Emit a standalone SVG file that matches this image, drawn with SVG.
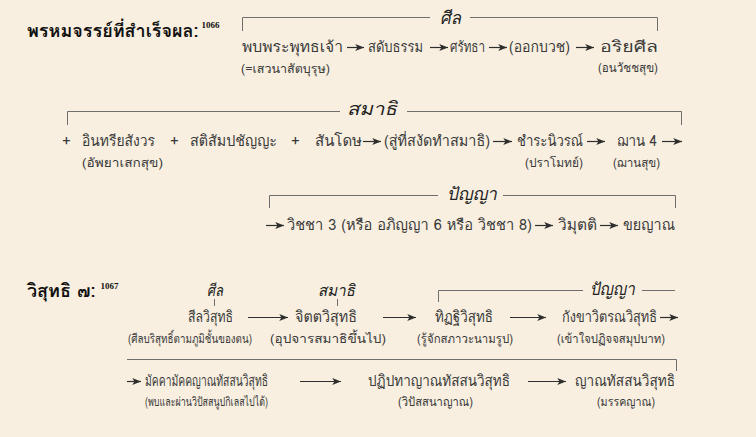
<svg xmlns="http://www.w3.org/2000/svg" width="756" height="437" viewBox="0 0 756 437">
<defs>
<marker id="ah" viewBox="0 0 10 8" refX="10" refY="4" markerWidth="9" markerHeight="7" markerUnits="userSpaceOnUse" orient="auto">
<path d="M0,0 L10,4 L0,8 L2.5,4 Z" fill="#2e2e2e"/>
</marker>
<style>
.t{font-family:"Loma","Noto Sans Thai Looped","Noto Sans Thai","Liberation Sans",sans-serif;font-size:15px;fill:#3a3a3a}
.s{font-family:"Loma","Noto Sans Thai Looped","Noto Sans Thai","Liberation Sans",sans-serif;font-size:12.5px;fill:#3a3a3a}
.h{font-family:"Loma","Noto Sans Thai Looped","Noto Sans Thai","Liberation Sans",sans-serif;font-size:18px;font-weight:bold;fill:#111}
.sup{font-family:"Liberation Serif",serif;font-size:9px;font-weight:bold;fill:#111}
.lab{font-family:"Loma","Noto Sans Thai Looped","Noto Sans Thai","Liberation Sans",sans-serif;font-style:italic;fill:#222}
.br{fill:none;stroke:#6e6e6e;stroke-width:1}
.ar{fill:none;stroke:#2e2e2e;stroke-width:1.2;marker-end:url(#ah)}
</style>
</defs>
<rect width="756" height="437" fill="#f8efe0"/>

<g id="brackets">
<path class="br" d="M242.5,31 V17.5 H430 M470,17.5 H657.5 V31"/>
<path class="br" d="M67.5,125 V111.5 H340 M407,111.5 H681.5 V125"/>
<path class="br" d="M269.5,208 V195.5 H438 M503,195.5 H675.5 V208"/>
<path class="br" d="M438.5,302 V290.5 H583 M642,290.5 H675"/>
<path class="br" d="M127,359.5 H676.5 V371"/>
<path class="br" d="M214.5,299 V306 M337.5,299 V306"/>
</g>

<g id="labels">
<text class="lab" x="440" y="24" font-size="18" textLength="21" lengthAdjust="spacingAndGlyphs">ศีล</text>
<text class="lab" x="347" y="115" font-size="18" textLength="50" lengthAdjust="spacingAndGlyphs">สมาธิ</text>
<text class="lab" x="447" y="200" font-size="18" textLength="50" lengthAdjust="spacingAndGlyphs">ปัญญา</text>
<text class="lab" x="207" y="296" font-size="16" textLength="16" lengthAdjust="spacingAndGlyphs">ศีล</text>
<text class="lab" x="318" y="296" font-size="16" textLength="37" lengthAdjust="spacingAndGlyphs">สมาธิ</text>
<text class="lab" x="590" y="295" font-size="17" textLength="45" lengthAdjust="spacingAndGlyphs">ปัญญา</text>
</g>

<g id="title1">
<text class="h" x="27" y="37">พรหมจรรย์ที่สำเร็จผล:<tspan class="sup" dx="3" dy="-9">1066</tspan></text>
</g>
<g id="title2">
<text class="h" x="27" y="297">วิสุทธิ ๗:<tspan class="sup" dx="5" dy="-8">1067</tspan></text>
</g>

<g id="connectors">
<path class="ar" d="M347,47.5 H364"/>
<path class="ar" d="M430,47.5 H448"/>
<path class="ar" d="M489,47.5 H507"/>
<path class="ar" d="M576,47.5 H594"/>
<path class="ar" d="M363,141.5 H381"/>
<path class="ar" d="M493,141.5 H512"/>
<path class="ar" d="M587,141.5 H605"/>
<path class="ar" d="M662,141.5 H682"/>
<path class="ar" d="M266,225.5 H284"/>
<path class="ar" d="M535,225.5 H553"/>
<path class="ar" d="M600,225.5 H618"/>
<path class="ar" d="M248,317.5 H288"/>
<path class="ar" d="M383,317.5 H416"/>
<path class="ar" d="M510,317.5 H546"/>
<path class="ar" d="M660,317.5 H678"/>
<path class="ar" d="M127,381.5 H141"/>
<path class="ar" d="M300,381.5 H341"/>
<path class="ar" d="M528,381.5 H566"/>
</g>

<g id="n-phob"><text class="t" x="242" y="52" textLength="101" lengthAdjust="spacingAndGlyphs">พบพระพุทธเจ้า</text><text class="s" x="241" y="73" textLength="89" lengthAdjust="spacingAndGlyphs">(=เสวนาสัตบุรุษ)</text></g>
<g id="n-sadap"><text class="t" x="368" y="52" textLength="55" lengthAdjust="spacingAndGlyphs">สดับธรรม</text></g>
<g id="n-sattha"><text class="t" x="450" y="52" textLength="35" lengthAdjust="spacingAndGlyphs">ศรัทธา</text></g>
<g id="n-okbuat"><text class="t" x="509" y="52" textLength="61" lengthAdjust="spacingAndGlyphs">(ออกบวช)</text></g>
<g id="n-ariyasil"><text class="t" x="600" y="52" textLength="58" lengthAdjust="spacingAndGlyphs">อริยศีล</text><text class="s" x="598" y="72" textLength="60" lengthAdjust="spacingAndGlyphs">(อนวัชชสุข)</text></g>

<g id="n-plus"><text class="t" x="62" y="146">+</text><text class="t" x="170" y="146">+</text><text class="t" x="291" y="146">+</text></g>
<g id="n-indriya"><text class="t" x="82" y="146" textLength="73" lengthAdjust="spacingAndGlyphs">อินทรียสังวร</text><text class="s" x="82" y="167" textLength="81" lengthAdjust="spacingAndGlyphs">(อัพยาเสกสุข)</text></g>
<g id="n-sati"><text class="t" x="190" y="146" textLength="87" lengthAdjust="spacingAndGlyphs">สติสัมปชัญญะ</text></g>
<g id="n-santosa"><text class="t" x="315" y="146" textLength="47" lengthAdjust="spacingAndGlyphs">สันโดษ</text></g>
<g id="n-sangat"><text class="t" x="384" y="146" textLength="106" lengthAdjust="spacingAndGlyphs">(สู่ที่สงัดทำสมาธิ)</text></g>
<g id="n-nivarana"><text class="t" x="517" y="146" textLength="66" lengthAdjust="spacingAndGlyphs">ชำระนิวรณ์</text><text class="s" x="525" y="167" textLength="58" lengthAdjust="spacingAndGlyphs">(ปราโมทย์)</text></g>
<g id="n-jhana"><text class="t" x="617" y="146" textLength="40" lengthAdjust="spacingAndGlyphs">ฌาน 4</text><text class="s" x="613" y="167" textLength="47" lengthAdjust="spacingAndGlyphs">(ฌานสุข)</text></g>

<g id="n-vijja"><text class="t" x="287" y="230" textLength="245" lengthAdjust="spacingAndGlyphs">วิชชา 3 (หรือ อภิญญา 6 หรือ วิชชา 8)</text></g>
<g id="n-vimutti"><text class="t" x="558" y="230" textLength="39" lengthAdjust="spacingAndGlyphs">วิมุตติ</text></g>
<g id="n-khaya"><text class="t" x="623" y="230" textLength="52" lengthAdjust="spacingAndGlyphs">ขยญาณ</text></g>

<g id="n-sila"><text class="t" x="188" y="322" textLength="45" lengthAdjust="spacingAndGlyphs">สีลวิสุทธิ</text><text class="s" x="128" y="343" font-size="11" textLength="124" lengthAdjust="spacingAndGlyphs">(ศีลบริสุทธิ์ตามภูมิชั้นของตน)</text></g>
<g id="n-citta"><text class="t" x="295" y="322" textLength="62" lengthAdjust="spacingAndGlyphs">จิตตวิสุทธิ</text><text class="s" x="270" y="343" font-size="12" textLength="116" lengthAdjust="spacingAndGlyphs">(อุปจารสมาธิขึ้นไป)</text></g>
<g id="n-ditthi"><text class="t" x="435" y="322" textLength="58" lengthAdjust="spacingAndGlyphs">ทิฏฐิวิสุทธิ</text><text class="s" x="417" y="343" textLength="96" lengthAdjust="spacingAndGlyphs">(รู้จักสภาวะนามรูป)</text></g>
<g id="n-kankha"><text class="t" x="562" y="322" textLength="95" lengthAdjust="spacingAndGlyphs">กังขาวิตรณวิสุทธิ</text><text class="s" x="557" y="343" textLength="108" lengthAdjust="spacingAndGlyphs">(เข้าใจปฏิจจสมุปบาท)</text></g>
<g id="n-magga"><text class="t" x="145" y="386" textLength="123" lengthAdjust="spacingAndGlyphs">มัคคามัคคญาณทัสสนวิสุทธิ</text><text class="s" x="145" y="406" textLength="123" lengthAdjust="spacingAndGlyphs">(พบและผ่านวิปัสสนูปกิเลสไปได้)</text></g>
<g id="n-patipada"><text class="t" x="368" y="386" textLength="142" lengthAdjust="spacingAndGlyphs">ปฏิปทาญาณทัสสนวิสุทธิ</text><text class="s" x="398" y="406" textLength="75" lengthAdjust="spacingAndGlyphs">(วิปัสสนาญาณ)</text></g>
<g id="n-nana"><text class="t" x="575" y="386" textLength="100" lengthAdjust="spacingAndGlyphs">ญาณทัสสนวิสุทธิ</text><text class="s" x="597" y="406" textLength="58" lengthAdjust="spacingAndGlyphs">(มรรคญาณ)</text></g>
</svg>
